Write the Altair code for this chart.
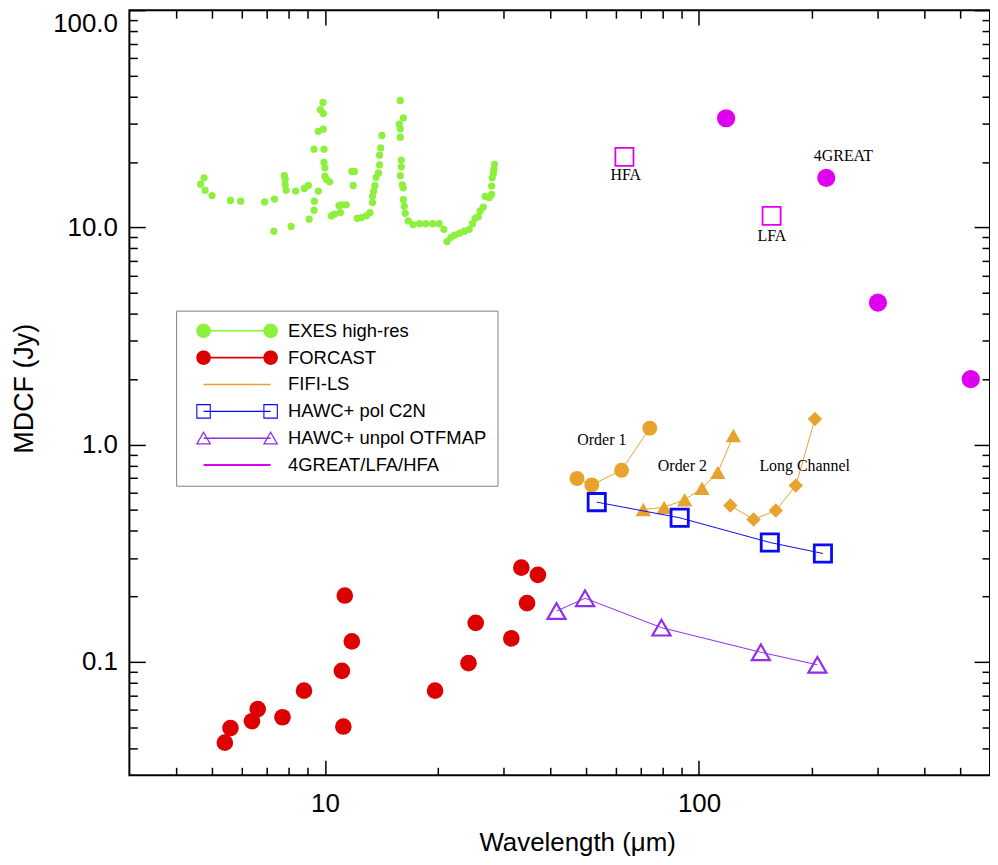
import numpy as np
import pandas as pd
import altair as alt

# ---------------- data ----------------
EXES_W = [4.75, 4.65, 4.78, 4.99, 5.59, 5.95, 6.90, 7.33, 7.30, 7.79,
          7.83, 7.83, 7.88, 8.12, 8.35, 8.81, 9.03, 9.07, 9.35, 9.37,
          9.35, 9.60, 9.60, 9.90, 9.73, 9.90, 9.88, 9.94, 9.94, 10.0,
          10.0, 10.1, 10.3, 10.4, 10.6, 11.0, 10.9, 11.1, 11.4, 11.8,
          12.0, 11.9, 12.2, 12.5, 12.9, 13.2, 13.4, 13.4, 13.5, 13.6,
          13.7, 13.9, 14.0, 14.0, 14.1, 14.2, 15.9, 16.2, 15.8, 15.9,
          15.9, 16.0, 16.0, 15.9, 16.1, 16.2, 16.2, 16.3, 16.4, 16.7,
          17.2, 17.9, 18.6, 19.4, 20.2, 20.8, 21.2, 21.7, 22.2, 22.9,
          23.6, 24.3, 24.8, 25.2, 25.7, 26.0, 26.5, 26.8, 27.5, 27.9,
          27.9, 28.0, 28.2, 28.3, 28.4]
EXES_F = [16.9, 15.8, 14.8, 14.0, 13.3, 13.2, 13.1, 13.5, 9.6, 17.3,
          16.6, 15.7, 14.8, 10.1, 14.7, 15.1, 15.6, 10.9, 12.0, 13.2,
          22.9, 14.7, 27.7, 28.3, 34.8, 33.4, 37.6, 22.9, 19.9, 18.8,
          17.2, 16.6, 16.2, 11.3, 11.5, 11.7, 12.6, 12.7, 12.7, 18.1,
          18.1, 15.6, 11.0, 11.1, 11.3, 11.7, 13.0, 13.9, 14.7, 15.6,
          17.0, 17.8, 19.4, 21.5, 23.2, 26.5, 38.4, 31.9, 29.9, 28.4,
          26.0, 20.4, 19.0, 17.3, 15.7, 15.2, 13.4, 12.5, 11.6, 10.7,
          10.3, 10.4, 10.4, 10.4, 10.4, 9.8, 8.6, 9.0, 9.2, 9.4,
          9.6, 9.8, 10.4, 11.0, 11.2, 11.9, 12.4, 13.9, 13.7, 14.2,
          15.5, 16.9, 17.7, 18.5, 19.5]

FORCAST_W = [5.40, 5.59, 6.38, 6.61, 7.70, 8.79, 11.3, 11.8, 11.1, 11.2,
             19.7, 24.2, 25.3, 31.5, 34.7, 33.5, 37.1]
FORCAST_F = [0.0424, 0.0495, 0.0532, 0.0605, 0.0555, 0.0736, 0.2017, 0.124,
             0.0907, 0.0503, 0.0736, 0.0985, 0.151, 0.128, 0.186, 0.271, 0.251]

FIFI_O1_W = [47.2, 51.7, 62.1, 73.9]
FIFI_O1_F = [0.698, 0.652, 0.762, 1.19]
FIFI_O2_W = [71.0, 80.7, 91.6, 101.9, 112.3, 123.6]
FIFI_O2_F = [0.502, 0.514, 0.557, 0.629, 0.744, 1.10]
FIFI_LC_W = [121.3, 140.0, 160.5, 181.5, 204.2]
FIFI_LC_F = [0.524, 0.452, 0.497, 0.647, 1.31]

HAWC_POL_W = [53.3, 88.8, 154.7, 214.5]
HAWC_POL_F = [0.543, 0.460, 0.354, 0.315]
HAWC_UNPOL_W = [41.6, 49.6, 79.4, 146.4, 207.3]
HAWC_UNPOL_F = [0.171, 0.196, 0.1435, 0.1105, 0.0968]

GREAT4_W = [118.2, 219.0, 301.0, 533.0]
GREAT4_F = [31.8, 16.9, 4.50, 2.00]
LFAHFA_W = [63.2, 156.4]
LFAHFA_F = [21.1, 11.3]

NOTE_TEXT = ["HFA", "LFA", "4GREAT", "Order 1", "Order 2", "Long Channel"]
NOTE_W = [63.7, 156.7, 243.4, 55.0, 90.3, 191.7]
NOTE_F = [17.5, 9.10, 21.4, 1.054, 0.80, 0.80]

SERIES = ["EXES high-res", "FORCAST", "FIFI-LS", "HAWC+ pol C2N",
          "HAWC+ unpol OTFMAP", "4GREAT/LFA/HFA"]

X_MAJOR = [10, 100]
X_MINOR = [4, 5, 6, 7, 8, 9, 20, 30, 40, 50, 60, 70, 80, 90, 200, 300, 400, 500]
Y_MAJOR = [0.1, 1, 10, 100]
Y_MINOR = [0.04, 0.05, 0.06, 0.07, 0.08, 0.09, 0.2, 0.3, 0.4, 0.5, 0.6, 0.7,
           0.8, 0.9, 2, 3, 4, 5, 6, 7, 8, 9, 20, 30, 40, 50, 60, 70, 80, 90]

# ---------------- styles ----------------
GREEN = "#8CF03C"
RED = "#DD0000"
ORANGE = "#E8A22E"
BLUE = "#0A0AF5"
PURPLE = "#8E2FEA"
MAGENTA = "#E000F0"
COLORS = [GREEN, RED, ORANGE, BLUE, PURPLE, MAGENTA]
SANS = "Liberation Sans"
SERIF = "Liberation Serif"

XS = alt.Scale(type="log", domain=[3, 600], nice=False)
YS = alt.Scale(type="log", domain=[0.03, 100], nice=False)


def df(w, f, **extra):
    d = pd.DataFrame({"w": w, "f": f})
    for k, v in extra.items():
        d[k] = v
    return d


def tick_axis(orient, values, size, **kw):
    base = dict(orient=orient, values=values, tickSize=size, offset=-size,
                domain=False, grid=False, ticks=True, tickColor="black",
                tickWidth=1.5, labels=False, title=None)
    base.update(kw)
    return alt.Axis(**base)


AX_B_MAJ = tick_axis("bottom", X_MAJOR, 15, labels=True, format="~g",
                     labelFont=SANS, labelFontSize=26, labelColor="black",
                     labelPadding=15, labelFlush=False,
                     title="Wavelength (\u03bcm)", titleFont=SANS,
                     titleFontSize=26, titleFontWeight="normal",
                     titleColor="black", titleX=450, titleY=91,
                     titleBaseline="alphabetic", titleAlign="center")
AX_B_MIN = tick_axis("bottom", X_MINOR, 8)
AX_T_MAJ = tick_axis("top", X_MAJOR, 15)
AX_T_MIN = tick_axis("top", X_MINOR, 8)
AX_L_MAJ = tick_axis("left", Y_MAJOR, 16, labels=True, format=".1f",
                     labelFont=SANS, labelFontSize=26, labelColor="black",
                     labelPadding=12, labelFlush=True,
                     title="MDCF (Jy)", titleFont=SANS, titleFontSize=27,
                     titleFontWeight="normal", titleColor="black",
                     titleX=-113, titleY=380, titleAngle=270,
                     titleBaseline="alphabetic", titleAlign="center")
AX_L_MIN = tick_axis("left", Y_MINOR, 8)
AX_R_MAJ = tick_axis("right", Y_MAJOR, 16)
AX_R_MIN = tick_axis("right", Y_MINOR, 8)


def enc(chart, xaxis=None, yaxis=None):
    return chart.encode(
        x=alt.X("w:Q", scale=XS, axis=xaxis),
        y=alt.Y("f:Q", scale=YS, axis=yaxis),
    )


# ---------------- legend symbols (shapes given in px, scaled by K) ----------------
K = 9.0
C = 33.7  # half distance between the two end markers


def poly(pts):
    return "M " + " L ".join(f"{x / K:.4f} {y / K:.4f}" for x, y in pts) + " Z"


def circ(cx, r, n=32):
    t = np.linspace(0, 2 * np.pi, n, endpoint=False)
    return poly(list(zip(cx + r * np.cos(t), r * np.sin(t))))


def hline(half):
    return poly([(-C, -half), (C, -half), (C, half), (-C, half)])


def hollow_square(cx, h, t):
    outer = poly([(cx - h, -h), (cx + h, -h), (cx + h, h), (cx - h, h)])
    hi = h - t
    inner = poly([(cx - hi, -hi), (cx - hi, hi), (cx + hi, hi), (cx + hi, -hi)])
    return outer + " " + inner


def hollow_tri(cx, t):
    a, b, hw = -7.4, 6.4, 7.8
    side = np.hypot(hw, b - a)
    r_in = hw * (b - a) / (hw + side)
    ic = b - r_in
    s = (r_in - t) / r_in
    outer = [(cx, a), (cx + hw, b), (cx - hw, b)]
    inner = [(cx + (x - cx) * s, ic + (y - ic) * s) for x, y in outer]
    return poly(outer) + " " + poly(inner[::-1])


R = 7.3
SHAPES = [
    hline(0.8) + " " + circ(-C, R) + " " + circ(C, R),
    hline(0.8) + " " + circ(-C, R) + " " + circ(C, R),
    hline(0.75),
    hline(0.75) + " " + hollow_square(-C, 7.3, 1.1) + " " + hollow_square(C, 7.3, 1.1),
    hline(0.75) + " " + hollow_tri(-C, 1.3) + " " + hollow_tri(C, 1.3),
    hline(1.0),
]

LEG = alt.Legend(orient="none", legendX=47, legendY=302, title=None,
                 direction="vertical", padding=11, strokeColor="#808080",
                 fillColor="white", symbolSize=(2 * K) ** 2,
                 symbolStrokeWidth=0, symbolOffset=41, labelOffset=42,
                 labelFont=SANS, labelFontSize=18.5, labelColor="black",
                 labelLimit=400, rowPadding=8, symbolOpacity=1)

# ---------------- layers ----------------
exes = enc(alt.Chart(df(EXES_W, EXES_F)).mark_point(
    filled=True, shape="circle", size=53, color=GREEN, opacity=1),
    AX_B_MAJ, AX_L_MAJ)
forcast = enc(alt.Chart(df(FORCAST_W, FORCAST_F)).mark_point(
    filled=True, shape="circle", size=279, color=RED, opacity=1),
    AX_B_MIN, AX_L_MIN)

fifi_all = pd.concat([
    df(FIFI_O1_W, FIFI_O1_F, grp="Order 1"),
    df(FIFI_O2_W, FIFI_O2_F, grp="Order 2"),
    df(FIFI_LC_W, FIFI_LC_F, grp="Long Channel"),
])
fifi_line = enc(alt.Chart(fifi_all).mark_line(color=ORANGE, strokeWidth=1),
                AX_T_MAJ, AX_R_MAJ).encode(detail="grp:N")
fifi_o1 = enc(alt.Chart(df(FIFI_O1_W, FIFI_O1_F)).mark_point(
    filled=True, shape="circle", size=225, color=ORANGE, opacity=1),
    AX_T_MIN, AX_R_MIN)
fifi_o2 = enc(alt.Chart(df(FIFI_O2_W, FIFI_O2_F)).mark_point(
    filled=True, shape="triangle-up", size=240, color=ORANGE, opacity=1))
fifi_lc = enc(alt.Chart(df(FIFI_LC_W, FIFI_LC_F)).mark_point(
    filled=True, shape="diamond", size=210, color=ORANGE, opacity=1))

hpol = df(HAWC_POL_W, HAWC_POL_F)
hpol_line = enc(alt.Chart(hpol).mark_line(color=BLUE, strokeWidth=1))
hpol_pts = enc(alt.Chart(hpol).mark_point(
    filled=False, shape="square", size=300, color=BLUE, strokeWidth=2.8, opacity=1))

hun = df(HAWC_UNPOL_W, HAWC_UNPOL_F)
hun_line = enc(alt.Chart(hun).mark_line(color=PURPLE, strokeWidth=1))
hun_pts = enc(alt.Chart(hun).mark_point(
    filled=False, shape="triangle-up", size=330, color=PURPLE, strokeWidth=2.2, opacity=1))

great = enc(alt.Chart(df(GREAT4_W, GREAT4_F)).mark_point(
    filled=True, shape="circle", size=335, color=MAGENTA, opacity=1))
lfahfa = enc(alt.Chart(df(LFAHFA_W, LFAHFA_F)).mark_point(
    filled=False, shape="square", size=330, color=MAGENTA, strokeWidth=1.8, opacity=1))

notes = enc(alt.Chart(df(NOTE_W, NOTE_F, txt=NOTE_TEXT)).mark_text(
    font=SERIF, fontSize=16, color="black", align="center", baseline="middle")
).encode(text="txt:N")

legend_layer = alt.Chart(pd.DataFrame({"series": SERIES})).mark_point(
    filled=True, opacity=0).encode(
    color=alt.Color("series:N", scale=alt.Scale(domain=SERIES, range=COLORS), legend=LEG),
    shape=alt.Shape("series:N", scale=alt.Scale(domain=SERIES, range=SHAPES), legend=LEG),
)

chart = alt.layer(
    exes, forcast, fifi_line, fifi_o1, fifi_o2, fifi_lc,
    hpol_line, hpol_pts, hun_line, hun_pts, great, lfahfa, notes, legend_layer,
).resolve_axis(x="independent", y="independent").properties(
    width=865, height=769,
    padding={"left": 122, "top": 0, "right": 0, "bottom": 88},
    autosize=alt.AutoSizeParams(type="none"),
    background="white",
).configure_view(stroke="black", strokeWidth=2)

chart.save("out.html", embed_options={"renderer": "svg", "actions": False})
